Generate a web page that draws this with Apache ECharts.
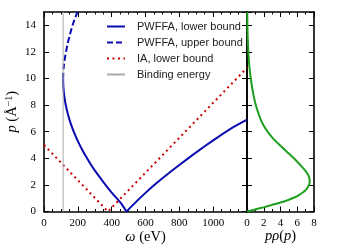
<!DOCTYPE html>
<html><head><meta charset="utf-8">
<script src="https://cdn.jsdelivr.net/npm/echarts@6/dist/echarts.min.js"></script>
<style>html,body{margin:0;padding:0;background:#fff}#c{width:338px;height:250px}</style>
</head><body><div id="c"></div>
<script>
// PWFFA lower bound (omega in eV, p in 1/Angstrom)
const omegaLower = [113,114,116,118,120,125,130,140,150,165,180,200,225,250,275,300,350,400,450,470,488,500,550,600,650,700,800,900,1000,1100,1200];
const pLower     = [10.0,9.5,9.13,8.87,8.66,8.25,7.92,7.38,6.93,6.36,5.87,5.29,4.66,4.09,3.57,3.09,2.23,1.42,0.7,0.35,0,0.16,0.8,1.4,1.97,2.5,3.5,4.45,5.35,6.2,6.9];
// PWFFA upper bound
const omegaUpper = [113,114,116,118,120,125,130,140,150,165,180,198];
const pUpper     = [10.0,10.4,10.8,11.05,11.25,11.65,11.98,12.65,13.15,13.85,14.42,15.0];
// IA lower bound
const omegaIA = [0,378,1200];
const pIA     = [5.0,0,10.8];
// Binding energy
const bindingEnergy = 113;
const bindingP = [0,15];
// Momentum profile p*rho(p)
const pProfile   = [0,0.15,0.33,0.5,0.68,0.85,1.05,1.25,1.45,1.6,1.8,2.0,2.2,2.4,2.6,2.8,3.0,3.5,4.0,4.5,5.0,5.5,6.0,6.5,7.0,8.0,9.0,10.0,11.0,12.0,13.0,14.0,15.0];
const rhoProfile = [0,0.95,2.05,3.0,4.0,4.85,5.65,6.25,6.7,6.98,7.24,7.4,7.48,7.48,7.4,7.25,7.05,6.35,5.6,4.75,3.9,3.1,2.45,1.95,1.58,1.05,0.7,0.45,0.27,0.16,0.09,0.05,0.03];
// Tick settings
const omegaTicks = {min:0, max:1200, interval:200, minor:50};
const pTicks = {min:0, max:15, interval:2};
const profileTicks = {min:0, max:8, interval:2, minor:1};

const zip = (a,b) => a.map((v,i)=>[v,b[i]]);
const AX = '#000';
const serif = 'Liberation Serif';
function mkX(grid, pos, t, showLabel) {
  return {type:'value', gridIndex:grid, position:pos, min:t.min, max:t.max, interval:t.interval,
    axisLine:{show:true, onZero:false, lineStyle:{color:AX, width:1.6}},
    axisTick:{show:true, inside:true, length:5, lineStyle:{color:AX, width:1}},
    splitLine:{show:false},
    axisLabel:{show:showLabel, color:'#000', fontFamily:serif, fontSize:11, margin:6,
      showMaxLabel: grid===1, formatter:v=>String(v)}
  };
}
function mkMinorX(grid, pos, t) {
  return {type:'value', gridIndex:grid, position:pos, min:t.min, max:t.max, interval:t.minor,
    axisLine:{show:false, onZero:false},
    axisTick:{show:true, inside:true, length:2.5, lineStyle:{color:AX, width:1}},
    splitLine:{show:false}, axisLabel:{show:false}
  };
}
function mkY(grid, pos, showLabel) {
  return {type:'value', gridIndex:grid, position:pos, min:pTicks.min, max:pTicks.max, interval:pTicks.interval,
    axisLine:{show:true, onZero:false, lineStyle:{color:AX, width:1.6}},
    axisTick:{show:true, inside:true, length:5, lineStyle:{color:AX, width:1}},
    splitLine:{show:false},
    axisLabel:{show:showLabel, color:'#000', fontFamily:serif, fontSize:11, margin:8, showMaxLabel:false}
  };
}
const nameFS = 14.5;
const xMain = mkX(0,'bottom',omegaTicks,true);
xMain.name = '{i|ω} (eV)';
xMain.nameLocation = 'middle'; xMain.nameGap = 18; xMain.nameMoveOverlap = false;
xMain.nameTextStyle = {color:'#000', fontFamily:serif, fontSize:nameFS, rich:{i:{fontStyle:'italic', fontFamily:serif, fontSize:nameFS}}};
const xRight = mkX(1,'bottom',profileTicks,true);
xRight.name = '{i|pρ}({i|p})';
xRight.nameLocation = 'middle'; xRight.nameGap = 17; xRight.nameMoveOverlap = false;
xRight.nameTextStyle = {color:'#000', fontFamily:serif, fontSize:nameFS, rich:{i:{fontStyle:'italic', fontFamily:serif, fontSize:nameFS}}};
const yMain = mkY(0,'left',true);
yMain.name = '{i|p} (Å{s|−1})';
yMain.nameLocation = 'middle'; yMain.nameGap = 23; yMain.nameRotate = 90; yMain.nameMoveOverlap = false;
yMain.nameTextStyle = {color:'#000', fontFamily:serif, fontSize:nameFS, rich:{i:{fontStyle:'italic', fontFamily:serif, fontSize:nameFS}, s:{fontFamily:serif, fontSize:10, padding:[0,0,7,0]}}};
const hiddenY = g => ({type:'value', gridIndex:g, min:0, max:15, show:false});

const blue = '#0a0ab0', red = '#cc0000', green = '#1ea01e', gray = '#aaaaaa';
const mainRect = {left:44, top:12, width:203, height:199.5, outerBoundsMode:'none', containLabel:false};
const rightRect = {left:247, top:12, width:67, height:199.5, outerBoundsMode:'none', containLabel:false};
const option = {
  animation:false,
  backgroundColor:'#fff',
  grid:[mainRect, rightRect, Object.assign({}, mainRect), Object.assign({}, rightRect)],
  xAxis:[xMain, mkX(0,'top',omegaTicks,false), xRight, mkX(1,'top',profileTicks,false),
         mkMinorX(2,'bottom',omegaTicks), mkMinorX(2,'top',omegaTicks),
         mkMinorX(3,'bottom',profileTicks), mkMinorX(3,'top',profileTicks)],
  yAxis:[yMain, mkY(0,'right',false), mkY(1,'left',false), mkY(1,'right',false), hiddenY(2), hiddenY(3)],
  legend:{
    left:101, top:16, orient:'vertical', itemWidth:18, itemHeight:12, itemGap:5,
    textStyle:{fontFamily:'Liberation Sans', fontSize:11, color:'#222', padding:[0,0,0,7]},
    data:['PWFFA, lower bound','PWFFA, upper bound','IA, lower bound','Binding energy']
  },
  series:[
    {name:'PWFFA, lower bound', type:'line', xAxisIndex:0, yAxisIndex:0, symbol:'none', smooth:0.15,
     data:zip(omegaLower,pLower), lineStyle:{color:blue, width:2}, itemStyle:{color:blue, opacity:0}},
    {name:'PWFFA, upper bound', type:'line', xAxisIndex:0, yAxisIndex:0, symbol:'none', smooth:0.15,
     data:zip(omegaUpper,pUpper), lineStyle:{color:blue, width:2, type:[6,3]}, itemStyle:{color:blue, opacity:0}},
    {name:'IA, lower bound', type:'line', xAxisIndex:0, yAxisIndex:0, symbol:'none',
     data:zip(omegaIA,pIA), lineStyle:{color:red, width:2, type:[2,3.5]}, itemStyle:{color:red, opacity:0}},
    {name:'Binding energy', type:'line', xAxisIndex:0, yAxisIndex:0, symbol:'none',
     data:bindingP.map(p=>[bindingEnergy,p]), lineStyle:{color:gray, width:1}, itemStyle:{color:gray, opacity:0}},
    {name:'profile', type:'line', xAxisIndex:2, yAxisIndex:2, symbol:'none', smooth:0.25,
     data:zip(rhoProfile,pProfile), lineStyle:{color:green, width:2}, itemStyle:{color:green, opacity:0}}
  ]
};
const chart = echarts.init(document.getElementById('c'), null, {renderer:'canvas'});
chart.setOption(option);
</script></body></html>
